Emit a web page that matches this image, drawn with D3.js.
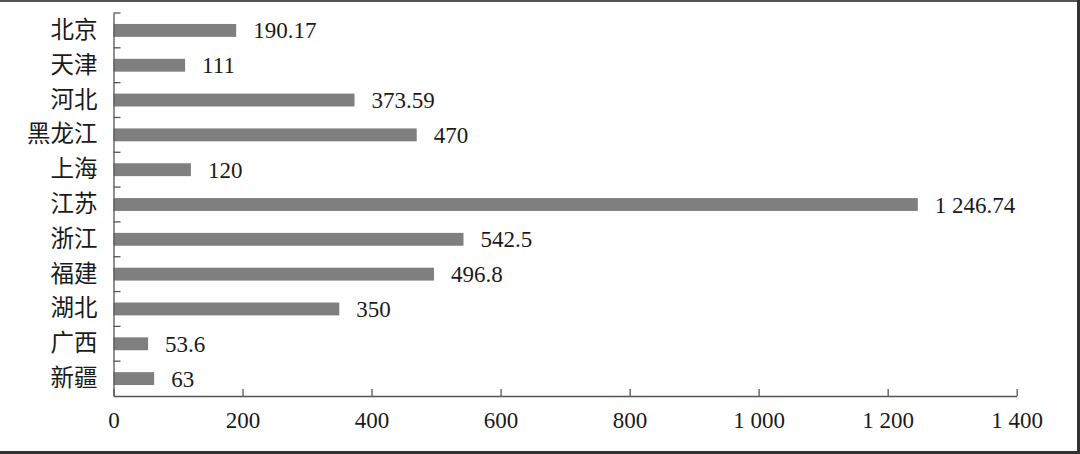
<!DOCTYPE html>
<html>
<head>
<meta charset="utf-8">
<script src="https://cdn.jsdelivr.net/npm/d3@7"></script>
<style>
  html, body { margin: 0; padding: 0; background: #fff; }
  svg { display: block; }
</style>
</head>
<body>
<svg id="chart" width="1080" height="454"></svg>
<script>
const categories = ["北京", "天津", "河北", "黑龙江", "上海", "江苏", "浙江", "福建", "湖北", "广西", "新疆"];
const values = [190.17, 111, 373.59, 470, 120, 1246.74, 542.5, 496.8, 350, 53.6, 63];
const xTicks = [0, 200, 400, 600, 800, 1000, 1200, 1400];

const W = 1080, H = 454;
const margin = { left: 113.5, right: 1080 - 1016.7, top: 13, bottom: 454 - 396 };
const svg = d3.select("#chart");

const loc = d3.formatLocale({ decimal: ".", thousands: " ", grouping: [3], currency: ["", ""] });
const tickFmt = loc.format(",d");
const valFmt = loc.format(",.2~f");

const numFont = "'Liberation Serif', 'Times New Roman', serif";
const cjkFont = "'Liberation Serif', 'Noto Sans CJK SC', serif";

// decorative frame edges of the scanned figure
svg.append("rect").attr("x", 0).attr("y", 0).attr("width", W).attr("height", 2).attr("fill", "#555");
svg.append("rect").attr("x", W - 3).attr("y", 0).attr("width", 3).attr("height", H).attr("fill", "#333");
svg.append("rect").attr("x", 0).attr("y", H - 3).attr("width", W).attr("height", 3).attr("fill", "#333");

const x = d3.scaleLinear().domain([0, 1400]).range([margin.left, W - margin.right]);
const y = d3.scaleBand().domain(categories).range([margin.top, H - margin.bottom])
  .paddingInner(0.63).paddingOuter(0.315);

const axisColor = "#555";

// bars
svg.append("g").selectAll("rect").data(categories).join("rect")
  .attr("x", x(0))
  .attr("y", d => y(d))
  .attr("width", (d, i) => x(values[i]) - x(0))
  .attr("height", y.bandwidth())
  .attr("fill", "#7f7f7f");

// value labels
svg.append("g").selectAll("text").data(categories).join("text")
  .attr("x", (d, i) => x(values[i]) + 17)
  .attr("y", d => y(d) + y.bandwidth() / 2)
  .attr("dy", "0.35em")
  .attr("font-family", numFont)
  .attr("font-size", 23)
  .attr("fill", "#1a1a1a")
  .text((d, i) => valFmt(values[i]));

// x axis
const gx = svg.append("g")
  .attr("transform", `translate(0,${H - margin.bottom})`)
  .call(d3.axisBottom(x).tickValues(xTicks).tickFormat(tickFmt).tickSizeInner(-7).tickSizeOuter(0).tickPadding(16));
gx.select(".domain").attr("stroke", axisColor).attr("stroke-width", 1.3);
gx.selectAll(".tick line").attr("stroke", axisColor).attr("stroke-width", 1.3);
gx.selectAll(".tick text").attr("font-family", numFont).attr("font-size", 23).attr("fill", "#1a1a1a");

// y axis
const gy = svg.append("g")
  .attr("transform", `translate(${margin.left},0)`)
  .call(d3.axisLeft(y).tickSize(0).tickPadding(16));
gy.select(".domain").attr("stroke", axisColor).attr("stroke-width", 1.3);
gy.selectAll(".tick text").attr("font-family", cjkFont).attr("font-size", 23.5).attr("fill", "#1a1a1a");

// y boundary ticks (between categories, pointing inward)
const step = y.step();
const bounds = d3.range(categories.length).map(i => y.range()[0] + i * step);
svg.append("g").selectAll("line").data(bounds).join("line")
  .attr("x1", margin.left).attr("x2", margin.left + 7)
  .attr("y1", d => d).attr("y2", d => d)
  .attr("stroke", axisColor).attr("stroke-width", 1.3);
</script>
</body>
</html>
